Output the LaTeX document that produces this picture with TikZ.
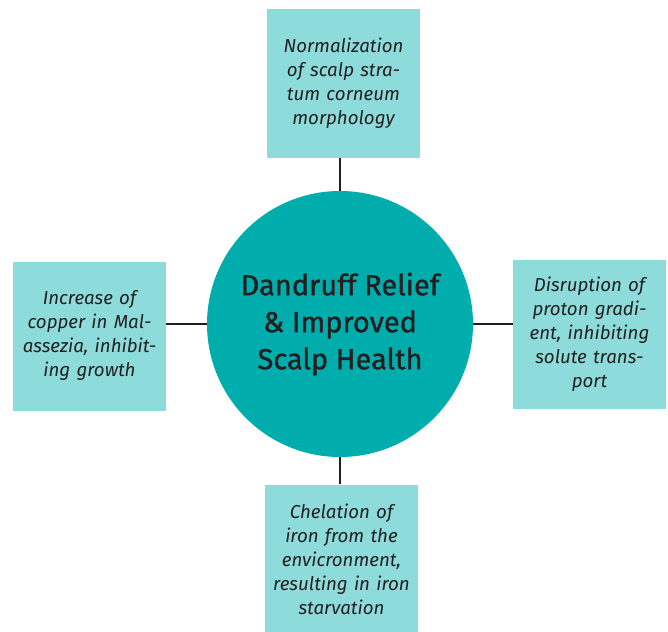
\documentclass[tikz,border=0pt]{standalone}
\usepackage{fontspec}
\setmainfont{Fira Sans}
\newfontfamily\hubfont[FakeBold=1.2]{Fira Sans}
\usepackage{tikz}

\definecolor{boxteal}{HTML}{8EDBDB}
\definecolor{hubteal}{HTML}{00ADAD}
\definecolor{inkdark}{HTML}{231F20}

\tikzset{
  effectbox/.style={fill=boxteal,minimum width=153pt,minimum height=149pt,inner sep=0pt,
    text width=146pt,align=center,text=inkdark,
    font=\fontsize{18.7}{24}\selectfont\itshape},
  hub/.style={circle,fill=hubteal,minimum size=266pt,inner sep=0pt,align=center,
    text=inkdark,font=\hubfont\fontsize{29}{37}\selectfont},
  link/.style={draw=inkdark,line width=2pt}
}

\begin{document}
\begin{tikzpicture}[x=1pt,y=-1pt]
  \useasboundingbox (0,0) rectangle (668,631);
  \node[hub] (relief) at (340,324) {Dandruff Relief\\\& Improved\\Scalp Health};
  \node[effectbox] (stratum) at (343.5,83.5) {Normalization\\of scalp stra-\\tum corneum\\morphology};
  \node[effectbox] (copper) at (89.5,336) {Increase of\\copper in Mal-\\assezia, inhibit-\\ing growth};
  \node[effectbox] (proton) at (589.5,334.5) {Disruption of\\proton gradi-\\ent, inhibiting\\solute trans-\\port};
  \node[effectbox] (iron) at (341.5,559) {Chelation of\\iron from the\\envicronment,\\resulting in iron\\starvation};
  % spokes
  \draw[link] (relief.north) -- (relief.north |- stratum.south);
  \draw[link] (relief.west) -- (copper.east |- relief.west);
  \draw[link] (relief.east) -- (proton.west |- relief.east);
  \draw[link] (relief.south) -- (relief.south |- iron.north);
\end{tikzpicture}
\end{document}
